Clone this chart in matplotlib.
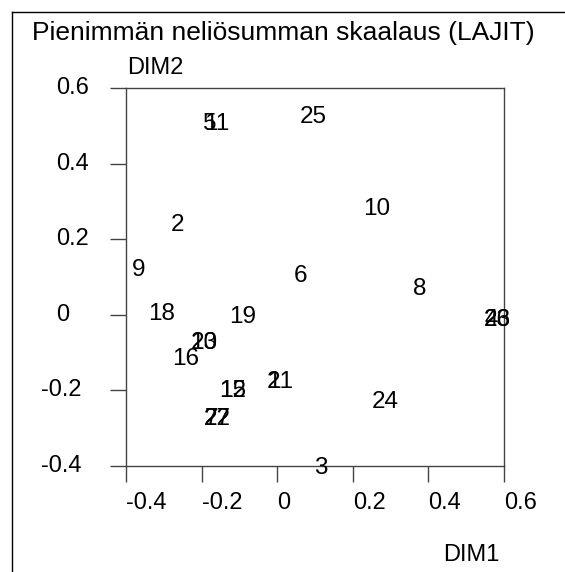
#!/usr/bin/env python3
"""Least squares scaling plot of species (LAJIT), text labels as point markers."""

import matplotlib as mpl
import matplotlib.pyplot as plt
from matplotlib.lines import Line2D
from matplotlib import transforms

mpl.rcParams.update(
    {
        "font.family": ["Liberation Sans", "DejaVu Sans"],
        "axes.unicode_minus": False,
    }
)

# ---------------------------------------------------------------------------
# Data
# ---------------------------------------------------------------------------
TITLE = "Pienimmän neliösumman skaalaus (LAJIT)"
X_LABEL = "DIM1"
Y_LABEL = "DIM2"

LABELS = ["5", "11", "25", "2", "9", "6", "10", "8", "23", "26", "4",
          "18", "19", "20", "13", "16", "21", "1", "12", "15",
          "22", "27", "7", "3", "24"]
DIM1 = [-0.178, -0.161, 0.095, -0.264, -0.366, 0.062, 0.263, 0.378, 0.581, 0.581, 0.565,
        -0.306, -0.092, -0.194, -0.194, -0.243, 0.007, -0.010, -0.118, -0.118,
        -0.158, -0.158, -0.175, 0.115, 0.285]
DIM2 = [0.511, 0.511, 0.531, 0.244, 0.125, 0.108, 0.287, 0.075, -0.006, -0.006, -0.006,
        0.009, 0.002, -0.069, -0.069, -0.110, -0.170, -0.170, -0.195, -0.195,
        -0.270, -0.270, -0.270, -0.400, -0.223]

X_TICKS = [-0.4, -0.2, 0, 0.2, 0.4, 0.6]
Y_TICKS = [-0.4, -0.2, 0, 0.2, 0.4, 0.6]

AXIS_GREY = "#444444"
BASE_FS = 17
W, H = 565, 572


def main() -> None:
    fig = plt.figure(figsize=(W / 100, H / 100), dpi=100, facecolor="white")
    ax = fig.add_axes([126 / W, 1 - 466 / H, 378 / W, 378 / H])

    # digits have no descenders, so nudge the box down to centre the glyphs
    label_trans = transforms.offset_copy(ax.transData, fig=fig, x=0, y=-2.5, units="dots")
    for lab, x, y in zip(LABELS, DIM1, DIM2):
        ax.text(x, y, lab, ha="center", va="center", fontsize=17.5, color="black",
                transform=label_trans)

    ax.set_xlim(X_TICKS[0], X_TICKS[-1])
    ax.set_ylim(Y_TICKS[0], Y_TICKS[-1])
    for sp in ax.spines.values():
        sp.set_color(AXIS_GREY)
        sp.set_linewidth(1.0)

    ax.set_xticks(X_TICKS)
    ax.set_xticklabels([f"{v:g}" for v in X_TICKS], fontsize=BASE_FS, ha="left")
    ax.set_yticks(Y_TICKS)
    ax.set_yticklabels([])
    ax.tick_params(axis="both", direction="out", length=11.5, width=1.0, color=AXIS_GREY)
    ax.tick_params(axis="x", pad=7)

    # y tick labels: digits line up on the left, minus sign hangs out
    ytrans = transforms.blended_transform_factory(fig.transFigure, ax.transData)
    for v in Y_TICKS:
        left = 56 if v >= 0 else 41
        ax.text(left / W, v, f"{v:g}", transform=ytrans, ha="left", va="center",
                fontsize=BASE_FS, clip_on=False)

    fig.text(283.5 / W, 1 - 33 / H, TITLE, ha="center", va="center", fontsize=19)
    fig.text(127 / W, 1 - 68 / H, Y_LABEL, ha="left", va="center", fontsize=BASE_FS)
    fig.text(443 / W, 1 - 555 / H, X_LABEL, ha="left", va="center", fontsize=BASE_FS)

    # outer frame: only top and left edges fall inside the picture
    fig.add_artist(Line2D([12 / W, 1.0], [1 - 12 / H, 1 - 12 / H], transform=fig.transFigure,
                          color="black", linewidth=1.0))
    fig.add_artist(Line2D([12 / W, 12 / W], [1 - 12 / H, 0.0], transform=fig.transFigure,
                          color="black", linewidth=1.0))

    fig.savefig("out.png", dpi=100, facecolor="white")
    plt.close(fig)


if __name__ == "__main__":
    main()
